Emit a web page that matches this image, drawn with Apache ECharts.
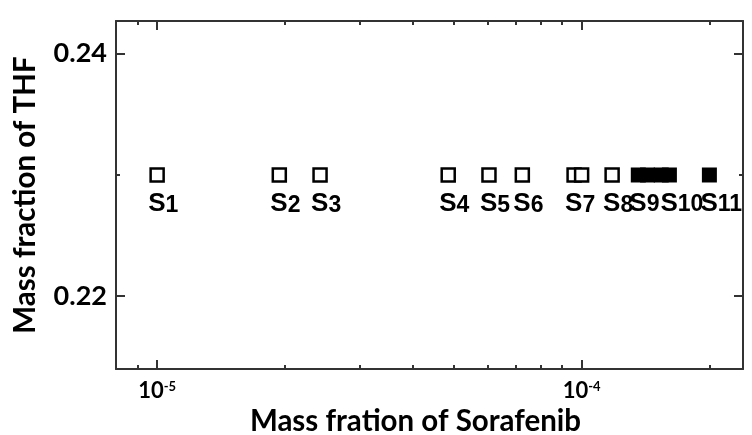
<!DOCTYPE html>
<html>
<head>
    <meta charset="utf-8">
    <title>Sorafenib / THF</title>
    <script src="https://cdn.jsdelivr.net/npm/echarts@6/dist/echarts.min.js"></script>
    <style>
        html, body { margin: 0; padding: 0; background: #fff; }
        #chart { width: 752px; height: 435px; }
    </style>
</head>
<body>
<div id="chart"></div>
<script type="text/javascript">

// mass fraction of sorafenib for every square (some samples have two squares)
var massSorafenib = [1.0e-5, 1.94e-5, 2.42e-5, 4.85e-5, 6.05e-5, 7.25e-5, 9.6e-5, 1.0e-4, 1.18e-4, 1.36e-4, 1.43e-4, 1.54e-4, 1.61e-4, 2.0e-4];
var massTHF = [0.23, 0.23, 0.23, 0.23, 0.23, 0.23, 0.23, 0.23, 0.23, 0.23, 0.23, 0.23, 0.23, 0.23];
var sampleIds = ['1', '2', '3', '4', '5', '6', '7', '', '8', '9', '', '', '10', '11'];
var isFilled = [false, false, false, false, false, false, false, false, false, true, true, true, true, true];

var xMajor = [1e-5, 1e-4];
var xMinor = [9e-6, 2e-5, 3e-5, 4e-5, 5e-5, 6e-5, 7e-5, 8e-5, 9e-5, 2e-4];
var yMajor = [0.22, 0.24];
var yMinor = [0.23];

var xMin = 8e-6, xMax = 2.4e-4;
var yMin = 0.2140, yMax = 0.2427;

var openPts = [], filledPts = [];
for (var i = 0; i < massSorafenib.length; i++) {
    var p = { value: [massSorafenib[i], massTHF[i]], sid: sampleIds[i] };
    if (isFilled[i]) filledPts.push(p); else openPts.push(p);
}

function ls() { return { color: '#333', width: 2 }; }
function titleFont() { return { fontFamily: 'Lato', fontWeight: 'bold', fontSize: 29.5, color: '#000' }; }

// four overlapping grids: one x and one y axis each, so major and minor ticks can differ in length
var gridRect = { left: 116, right: 9, top: 21, bottom: 66, containLabel: false, outerBoundsMode: 'none' };
var grids = [0, 1, 2, 3].map(function () { return Object.assign({}, gridRect); });

function axisDef(g, type, min, max, pos, ticks, len, showLine) {
    return {
        gridIndex: g, type: type, min: min, max: max, position: pos,
        axisLine: { show: showLine, lineStyle: ls() },
        axisTick: { show: true, inside: true, length: len, customValues: ticks, lineStyle: ls() },
        axisLabel: { show: true, customValues: ticks, formatter: function () { return ''; } },
        splitLine: { show: false }
    };
}

var xAxes = [
    axisDef(0, 'log', xMin, xMax, 'bottom', xMajor, 9, true),
    axisDef(1, 'log', xMin, xMax, 'bottom', xMinor, 4, false),
    axisDef(2, 'log', xMin, xMax, 'top', xMajor, 9, true),
    axisDef(3, 'log', xMin, xMax, 'top', xMinor, 4, false)
];
xAxes[0].axisLabel = {
    show: true, customValues: xMajor, margin: 11,
    formatter: function (v) { return '{b|10}{p|' + Math.round(Math.log10(v)) + '}'; },
    rich: {
        b: { fontFamily: 'Lato', fontWeight: 'bold', fontSize: 22, lineHeight: 22, color: '#000', verticalAlign: 'bottom' },
        p: { fontFamily: 'Lato', fontWeight: 'bold', fontSize: 13, lineHeight: 13, color: '#000', verticalAlign: 'top' }
    }
};
xAxes[0].name = 'Mass fration of Sorafenib';
xAxes[0].nameLocation = 'middle';
xAxes[0].nameGap = 37;
xAxes[0].nameTextStyle = Object.assign({ padding: [0, 28, 0, 0] }, titleFont());

var yAxes = [
    axisDef(0, 'value', yMin, yMax, 'left', yMajor, 9, true),
    axisDef(1, 'value', yMin, yMax, 'left', yMinor, 4, false),
    axisDef(2, 'value', yMin, yMax, 'right', yMajor, 9, true),
    axisDef(3, 'value', yMin, yMax, 'right', yMinor, 4, false)
];
yAxes[0].axisLabel = {
    show: true, customValues: yMajor, margin: 9,
    fontFamily: 'Lato', fontWeight: 'bold', fontSize: 27, color: '#000',
    formatter: function (v) { return v.toFixed(2); }
};
yAxes[0].name = 'Mass fraction of THF';
yAxes[0].nameLocation = 'middle';
yAxes[0].nameGap = 76;
yAxes[0].nameTextStyle = titleFont();

function sLabel() {
    return {
        show: true, position: 'bottom', align: 'left', distance: 8, offset: [-9, 0],
        formatter: function (p) { return p.data.sid ? '{s|S}{sub|' + p.data.sid + '}' : ''; },
        rich: {
            s: { fontFamily: 'Liberation Sans', fontWeight: 'bold', fontSize: 26, lineHeight: 26, color: '#000', verticalAlign: 'top' },
            sub: { fontFamily: 'Liberation Sans', fontWeight: 'bold', fontSize: 23, lineHeight: 23, color: '#000', verticalAlign: 'bottom', padding: [14, 0, 0, 0] }
        }
    };
}

var chart = echarts.init(document.getElementById('chart'));
chart.setOption({
    animation: false,
    grid: grids,
    xAxis: xAxes,
    yAxis: yAxes,
    series: [
        {
            type: 'scatter', name: 'open', data: openPts, xAxisIndex: 0, yAxisIndex: 0,
            symbol: 'rect', symbolSize: 13,
            itemStyle: { color: '#fff', borderColor: '#000', borderWidth: 2.5, opacity: 1 },
            label: sLabel()
        },
        {
            type: 'scatter', name: 'filled', data: filledPts, xAxisIndex: 0, yAxisIndex: 0,
            symbol: 'rect', symbolSize: 15,
            itemStyle: { color: '#000', opacity: 1 },
            label: sLabel()
        }
    ]
});
</script>
</body>
</html>
